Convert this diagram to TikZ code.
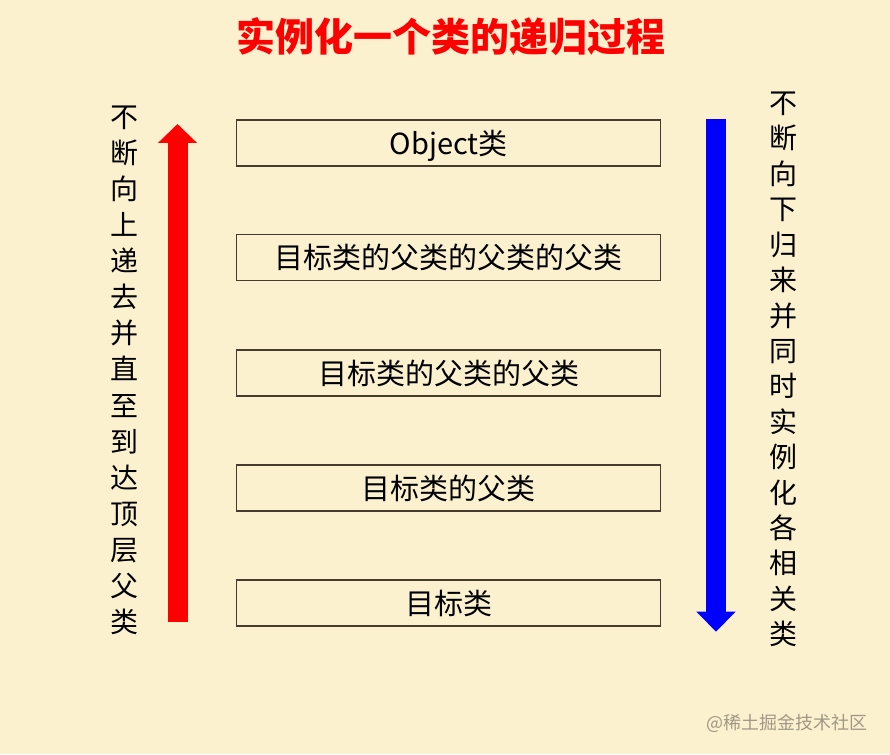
\documentclass[tikz,border=0pt]{standalone}
\usepackage{fontspec}
\setmainfont{Noto Sans CJK SC}
\usepackage{tikz}
\usetikzlibrary{arrows.meta,positioning}
\definecolor{bgcream}{RGB}{252,241,207}
\definecolor{boxline}{RGB}{70,60,45}
\definecolor{markgray}{RGB}{160,152,132}
\newcommand{\Cfont}[1]{\fontsize{#1}{#1}\selectfont}

\begin{document}
\begin{tikzpicture}[x=1pt,y=-1pt,
  cls/.style={rectangle,draw=boxline,line width=1.3pt,fill=bgcream,
    minimum width=424pt,minimum height=46pt,inner sep=0pt,
    font=\Cfont{29},text height=25.5pt,text depth=3.5pt},
  vtext/.style={inner sep=0pt,font=\Cfont{28},text height=24.6pt,text depth=3.4pt},
  upline/.style={draw=red,line width=20pt,-{Triangle[width=38pt,length=19pt]}},
  downline/.style={draw=blue,line width=20pt,-{Triangle[width=38pt,length=20pt]}}]
\fill[bgcream] (0,0) rectangle (890,754);
\useasboundingbox (0,0) rectangle (890,754);
%
\node (title) [inner sep=0pt,text=red,font=\Cfont{39}\bfseries,text height=34.3pt,text depth=4.7pt] at (451,37) {实例化一个类的递归过程};
%
\node (b1) [cls] at (448.7,143) {Object类};
\node (b2) [cls] at (448.7,257.7) {目标类的父类的父类的父类};
\node (b3) [cls] at (448.7,373) {目标类的父类的父类};
\node (b4) [cls] at (448.7,488) {目标类的父类};
\node (b5) [cls] at (448.7,603) {目标类};
%
\coordinate (r0) at (177.5,621.7);
\coordinate (r1) at (177.5,124);
\path[upline] (r0) -- (r1);
\coordinate (s0) at (716,119.3);
\coordinate (s1) at (716,631.7);
\path[downline] (s0) -- (s1);
%
\foreach \c [count=\i] in {不,断,向,上,递,去,并,直,至,到,达,顶,层,父,类}
  \node (u\i) [vtext] at (124,{117+(\i-1)*36.05}) {\c};
\foreach \c [count=\i] in {不,断,向,下,归,来,并,同,时,实,例,化,各,相,关,类}
  \node (d\i) [vtext] at (783,{103+(\i-1)*35.4}) {\c};
%
\node (mark) [inner sep=0pt,text=markgray,font=\Cfont{18},anchor=east] at (868,723.5) {@稀土掘金技术社区};
\end{tikzpicture}
\end{document}
